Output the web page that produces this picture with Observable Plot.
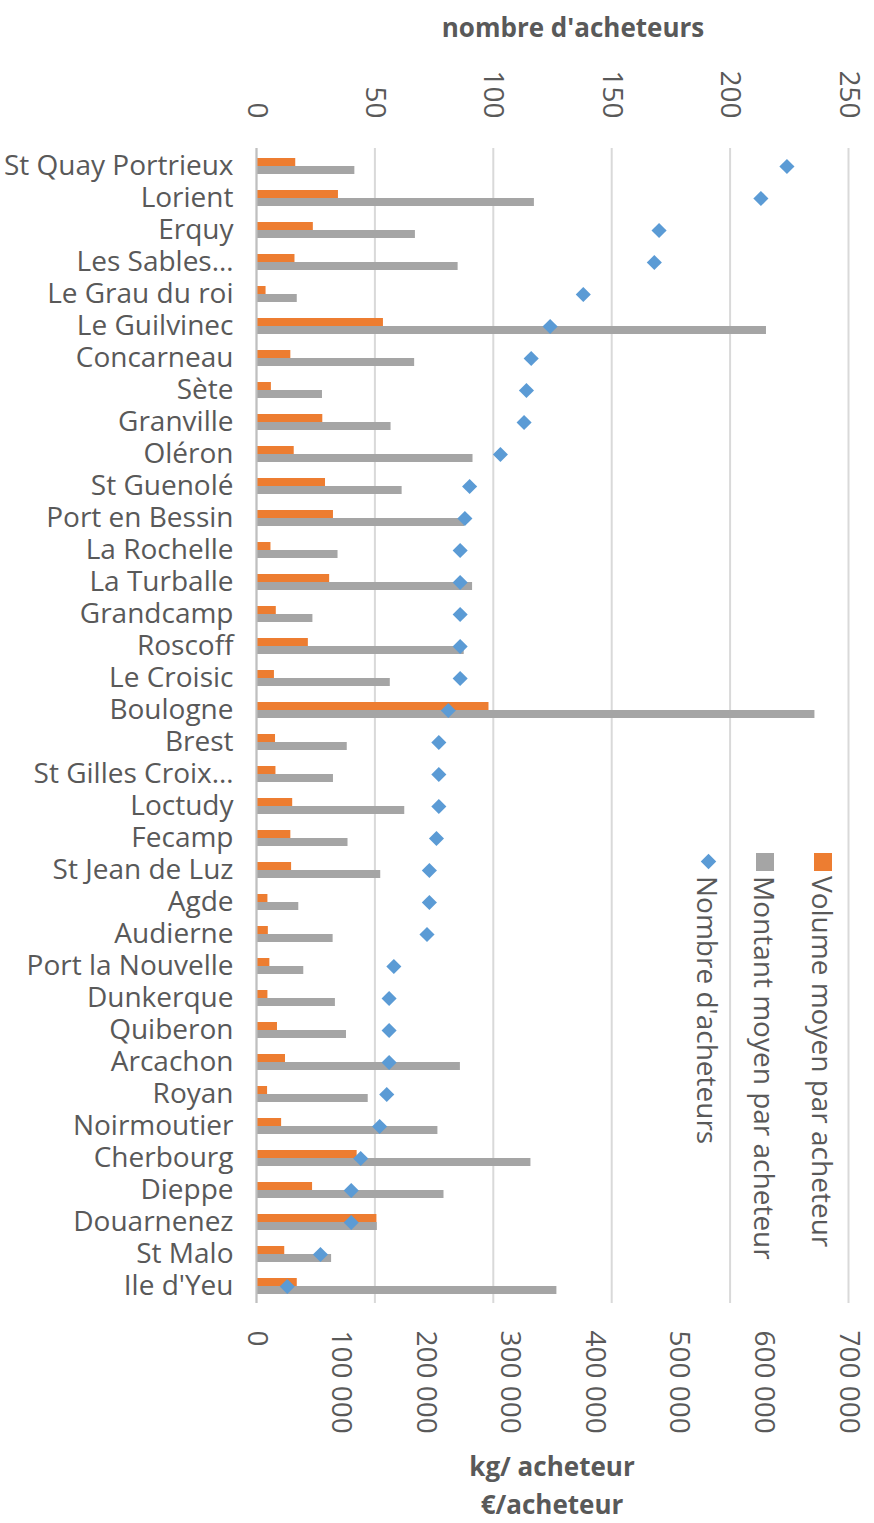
<!DOCTYPE html>
<html>
<head>
<meta charset="utf-8">
<script src="https://cdn.jsdelivr.net/npm/d3@7"></script>
<script src="https://cdn.jsdelivr.net/npm/@observablehq/plot@0.6"></script>
<style>
  body { margin: 0; background: #fff; }
  #wrap { position: relative; width: 874px; height: 1523px; overflow: hidden;
          font-family: "Open Sans", sans-serif; color: #595959; }
  #wrap svg { position: absolute; left: 0; top: 0; }
  .title { position: absolute; font-weight: bold; font-size: 26px; line-height: 34px;
           white-space: nowrap; transform: translateX(-50%); }
  .lg-text { position: absolute; writing-mode: vertical-rl; font-size: 28px; line-height: 30px;
             width: 30px; white-space: nowrap; }
  .lg-sq { position: absolute; width: 18px; height: 18px; }
  .lg-dia { position: absolute; width: 11px; height: 11px; transform: rotate(45deg); }
</style>
</head>
<body>
<div id="wrap"></div>
<script>
// ---- data ----
const ports = ["St Quay Portrieux", "Lorient", "Erquy", "Les Sables…", "Le Grau du roi",
  "Le Guilvinec", "Concarneau", "Sète", "Granville", "Oléron", "St Guenolé", "Port en Bessin",
  "La Rochelle", "La Turballe", "Grandcamp", "Roscoff", "Le Croisic", "Boulogne", "Brest",
  "St Gilles Croix…", "Loctudy", "Fecamp", "St Jean de Luz", "Agde", "Audierne",
  "Port la Nouvelle", "Dunkerque", "Quiberon", "Arcachon", "Royan", "Noirmoutier",
  "Cherbourg", "Dieppe", "Douarnenez", "St Malo", "Ile d'Yeu"];
// Volume moyen par acheteur (kg/acheteur)
const volume = [46400, 96900, 67200, 45500, 11300, 150100, 40600, 17600, 78400, 44600,
  81600, 91000, 17100, 86500, 23400, 61300, 21200, 274900, 22500, 23000, 42800, 40600,
  41500, 13500, 14000, 15800, 13500, 24800, 34300, 13100, 29700, 119000, 66300, 142400,
  33400, 48200];
// Montant moyen par acheteur (€/acheteur)
const montant = [116300, 328600, 187900, 238400, 48200, 603000, 187000, 78000, 159100,
  256000, 172200, 246100, 96400, 255500, 66700, 245600, 158200, 660300, 107300, 91000,
  175300, 108200, 146900, 50000, 90600, 55900, 93300, 106400, 241100, 132100, 214500,
  324500, 221700, 142900, 88800, 355200];
// Nombre d'acheteurs
const acheteurs = [224, 213, 170, 168, 138, 124, 116, 114, 113, 103, 90, 88, 86, 86, 86,
  86, 86, 81, 77, 77, 77, 76, 73, 73, 72, 58, 56, 56, 56, 55, 52, 44, 40, 40, 27, 13];

const topTicks = [0, 50, 100, 150, 200, 250];
const bottomTicks = [0, 100000, 200000, 300000, 400000, 500000, 600000, 700000];
const topTitle = "nombre d'acheteurs";
const bottomTitle = ["kg/ acheteur", "€/acheteur"];
const legendItems = ["Volume moyen par acheteur", "Montant moyen par acheteur", "Nombre d'acheteurs"];
const colors = ["#ED7D31", "#A5A5A5", "#5B9BD5"];

// ---- build ----
const MAXN = 250, MAXE = 700000;
const toN = v => v * MAXN / MAXE;          // secondary (bottom) axis -> primary scale
const fmt = v => d3.format(",")(v).replace(/,/g, " ");
const data = ports.map((p, i) => ({port: p, volume: volume[i], montant: montant[i], acheteurs: acheteurs[i]}));

const chart = Plot.plot({
  width: 874,
  height: 1523,
  marginLeft: 256,
  marginRight: 26,
  marginTop: 148,
  marginBottom: 220,
  style: {fontFamily: '"Open Sans", sans-serif', background: "transparent", color: "#595959"},
  x: {domain: [0, MAXN]},
  y: {domain: ports, padding: 0},
  marks: [
    Plot.gridX(topTicks, {stroke: "#d9d9d9", strokeOpacity: 1, strokeWidth: 2}),
    Plot.axisX(topTicks, {anchor: "top", tickSize: 0, tickRotate: 90, tickPadding: 30,
      fontSize: 28, color: "#595959", label: null}),
    Plot.axisX(bottomTicks.map(toN), {anchor: "bottom", tickSize: 0, tickRotate: 90, tickPadding: 27,
      fontSize: 28, color: "#595959", label: null,
      tickFormat: d => fmt(Math.round(d * MAXE / MAXN))}),
    Plot.axisY({tickSize: 0, tickPadding: 23, fontSize: 28, color: "#595959", label: null}),
    Plot.barX(data, {y: "port", x: d => toN(d.volume), fill: colors[0], insetTop: 8, insetBottom: 16}),
    Plot.barX(data, {y: "port", x: d => toN(d.montant), fill: colors[1], insetTop: 16, insetBottom: 8}),
    Plot.ruleX([0], {stroke: "#bfbfbf", strokeWidth: 2}),
    Plot.dot(data, {y: "port", x: "acheteurs", symbol: "diamond2", r: 6.8, fill: colors[2], stroke: null})
  ]
});

const wrap = document.getElementById("wrap");
wrap.appendChild(chart);

function addDiv(cls, text, css) {
  const d = document.createElement("div");
  d.className = cls;
  if (text) d.textContent = text;
  Object.assign(d.style, css);
  wrap.appendChild(d);
  return d;
}
// axis titles
addDiv("title", topTitle, {left: "573px", top: "10px"});
addDiv("title", bottomTitle[0], {left: "552px", top: "1449px"});
addDiv("title", bottomTitle[1], {left: "552px", top: "1487px"});

// legend (rotated, columns right to left)
const lgX = [823, 765, 708];
legendItems.forEach((t, i) => {
  if (i < 2) addDiv("lg-sq", null, {left: (lgX[i] - 9) + "px", top: "853px", background: colors[i]});
  else addDiv("lg-dia", null, {left: (lgX[i] - 5.5) + "px", top: "856px", background: colors[i]});
  addDiv("lg-text", t, {left: (lgX[i] - 15) + "px", top: "876px"});
});
</script>
</body>
</html>
